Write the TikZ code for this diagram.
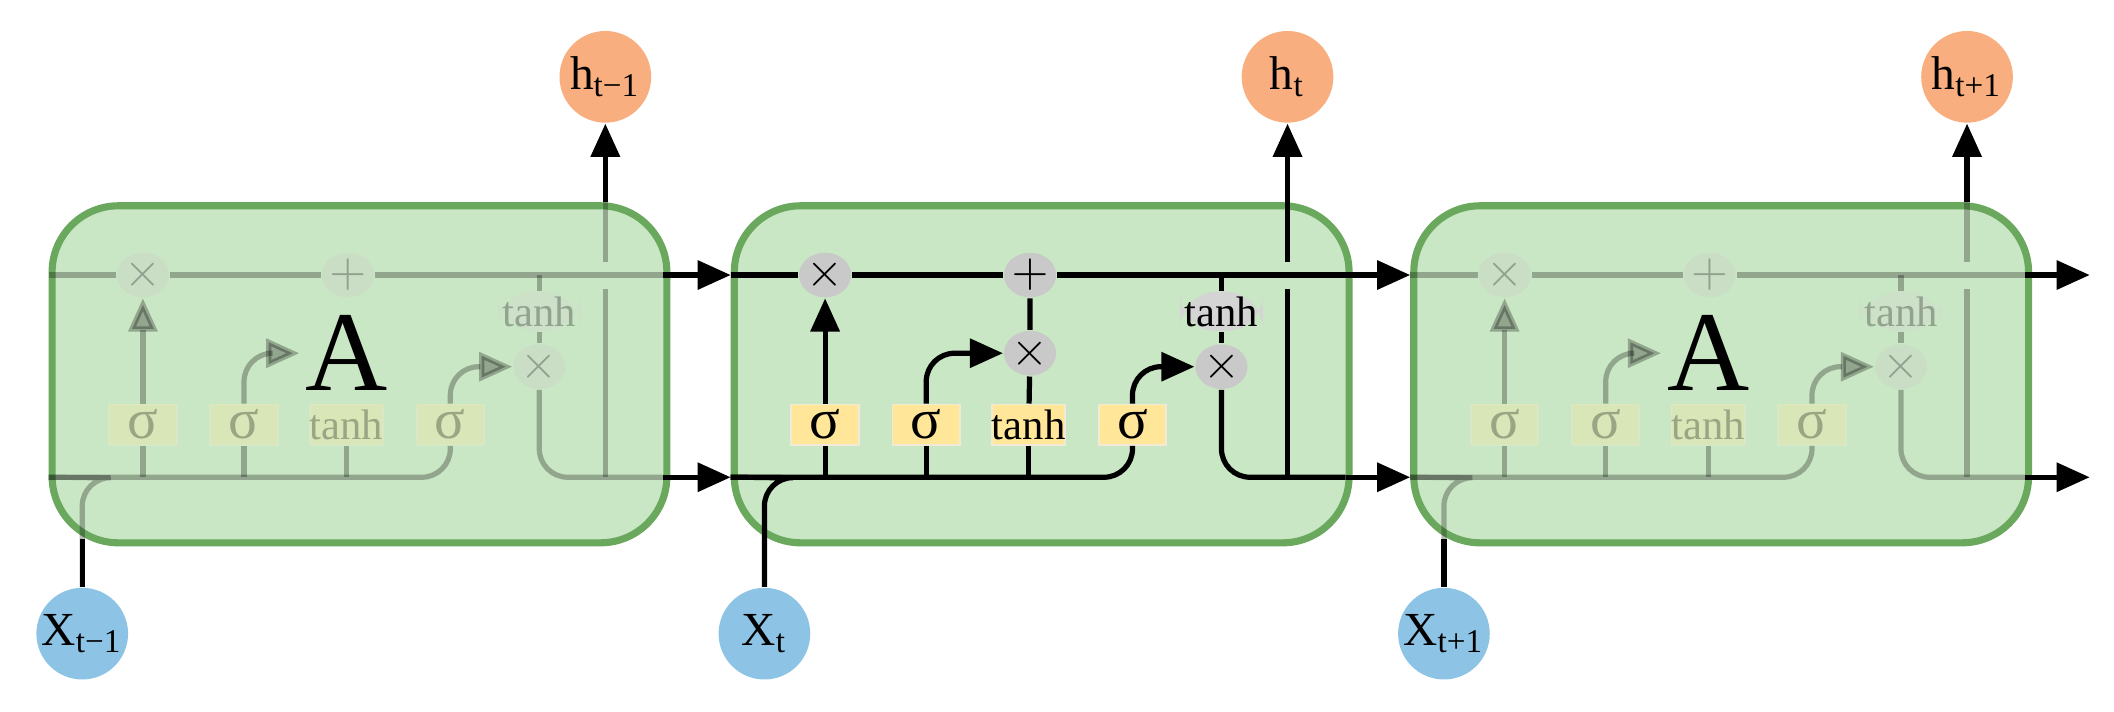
\documentclass[tikz,border=0pt]{standalone}
\usepackage{fontspec}
\setmainfont{Liberation Serif}
\usetikzlibrary{arrows.meta,shapes.geometric}
\definecolor{cellg}{HTML}{C9E7C4}
\definecolor{cellb}{HTML}{6AA85E}
\definecolor{gy}{HTML}{FFE699}
\definecolor{gg}{HTML}{C9C9C9}
\definecolor{orn}{HTML}{F9AE7F}
\definecolor{blu}{HTML}{8DC4E6}
\begin{document}
\begin{tikzpicture}[x=0.01cm,y=-0.01cm,
  ln/.style={line width=1.1pt,rounded corners=6},
  ar/.style={ln,-{Triangle[length=7pt,width=6pt]}},
  gate/.style={fill=gy,draw=gy!80!black!30,minimum width=50*0.01cm,minimum height=30*0.01cm,inner sep=0pt,font=\fontsize{12}{12}\selectfont},
  op/.style={ellipse,fill=gg,minimum width=26*0.01cm,minimum height=28*0.01cm,inner sep=0pt,font=\fontsize{10}{10}\selectfont},
  th/.style={fill=gg!80,rounded corners=8,inner sep=1pt,minimum width=48*0.01cm,minimum height=28*0.01cm,font=\fontsize{9}{9}\selectfont},
  io/.style={circle,minimum size=68*0.01cm,inner sep=0pt,font=\fontsize{10}{10}\selectfont}]
\useasboundingbox (0,0) rectangle (1568,527.4);
\foreach \i/\x/\o/\lab in {1/36/0.28/t−1,2/542/1/t,3/1046/0.28/t+1}{
\begin{scope}[shift={(\x,0)}]
  \node[draw=cellb,line width=1.5pt,fill=cellg,rounded corners=14,minimum width=456*0.01cm,minimum height=250*0.01cm,anchor=north west] (box\i) at (0,150) {};
  \coordinate (tl\i) at (0,204);
  \coordinate (bl\i) at (0,354);
  \coordinate (tr\i) at (456,204);
  \coordinate (br\i) at (456,354);
  \node[io,fill=orn] (h\i) at (413,57) {h\textsubscript{\lab}};
  \node[io,fill=blu] (x\i) at (25,470) {X\textsubscript{\lab}};
  \begin{scope}[opacity=\o]
  \node[op] (f\i) at (70,204) {$\times$};
  \node[op] (p\i) at (222,204) {$+$};
  \node[th] (t\i) at (364,231) {tanh};
  \node[op] (o\i) at (364,272) {$\times$};
  \node[gate] (g1\i) at (70,315) {σ};
  \node[gate] (g2\i) at (145,315) {σ};
  \node[gate,font=\fontsize{9}{9}\selectfont] (g3\i) at (221,315) {tanh};
  \node[gate] (g4\i) at (298,315) {σ};
  \draw[ln] (tl\i) -- (f\i) -- (p\i) -- (tr\i);
  \draw[ln] (x\i.north) |- ++(25,-81) -- (bl\i);
  \draw[ln] (bl\i) -| (g4\i.south);
  \draw[ln] (g1\i.south) -- (g1\i.south|-bl\i);
  \draw[ln] (g2\i.south) -- (g2\i.south|-bl\i);
  \draw[ln] (g3\i.south) -- (g3\i.south|-bl\i);
  \draw[ar] (g1\i) -- (f\i);
  \ifnum\i=2
    \node[op] (m\i) at (222,262) {$\times$};
    \draw[ar] (g2\i.north) |- (m\i.west);
    \draw[ln] (g3\i) -- (m\i) -- (p\i);
  \else
    \coordinate (m\i) at (186,262);
    \draw[ar] (g2\i.north) |- (m\i);
  \fi
  \draw[ar] (g4\i.north) |- (o\i.west);
  \draw[ln] (t\i.north) -- (t\i.north|-tr\i);
  \draw[ln] (t\i) -- (o\i);
  \draw[ln] (o\i.south) |- (br\i);
  \draw[ln] (413,354) -- (413,214);
  \draw[ln] (413,194) -- (413,150);
  \end{scope}
  \draw[ar] (413,150) -- (h\i.south);
  \draw[ln] (x\i.north) -- (25,400);
\end{scope}}
\node[font=\fontsize{24}{24}\selectfont] (A1) at (257,262) {A};
\node[font=\fontsize{24}{24}\selectfont] (A3) at (1267,262) {A};
\draw[ar] (tr1) -- (tl2);
\draw[ar] (br1) -- (bl2);
\draw[ar] (tr2) -- (tl3);
\draw[ar] (br2) -- (bl3);
\coordinate (e1) at (1550,204);
\coordinate (e2) at (1550,354);
\draw[ar] (tr3) -- (e1);
\draw[ar] (br3) -- (e2);
\end{tikzpicture}
\end{document}
